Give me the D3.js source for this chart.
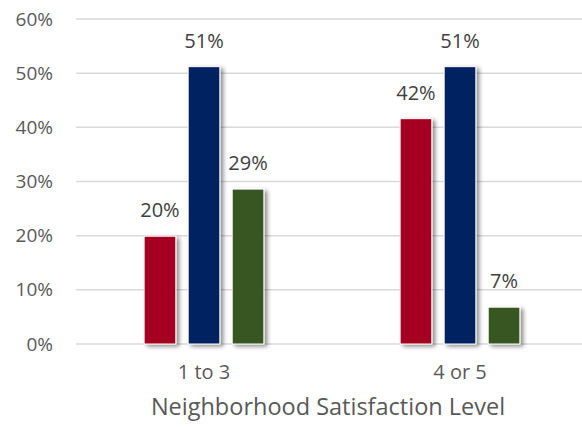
<!DOCTYPE html>
<html><head><meta charset="utf-8">
<script src="https://cdn.jsdelivr.net/npm/d3@7"></script>
<style>body{margin:0;background:#fff}svg{display:block}</style>
</head><body>
<svg id="c" width="582" height="427"></svg>
<script>
const categories = ["1 to 3", "4 or 5"];
const seriesNames = ["A", "B", "C"];
const seriesA = [0.199, 0.416];
const seriesB = [0.512, 0.512];
const seriesC = [0.286, 0.068];
const yTicks = [0, 0.1, 0.2, 0.3, 0.4, 0.5, 0.6];
const colors = ["#A50021", "#002060", "#375623"];
const axisTitle = "Neighborhood Satisfaction Level";

(function () {
const svg = d3.select("#c");
const font = "'Open Sans', sans-serif";
const mLeft = 76, mRight = 588, mTop = 19, mBottom = 344;

const defs = svg.append("defs");
const f = defs.append("filter").attr("id","sh").attr("x","-30%").attr("y","-10%").attr("width","160%").attr("height","130%");
f.append("feDropShadow").attr("dx",3).attr("dy",2).attr("stdDeviation",2).attr("flood-color","#000").attr("flood-opacity",0.45);

const y = d3.scaleLinear().domain([0, 0.6]).range([mBottom, mTop]);
const x0 = d3.scaleBand().domain(categories).range([mLeft, mRight]).paddingInner(0.484).paddingOuter(0.242);
const x1 = d3.scaleBand().domain(seriesNames).range([0, x0.bandwidth()]).paddingInner(0.28).paddingOuter(0.14);

svg.append("g").selectAll("line").data(yTicks).join("line")
  .attr("x1", mLeft).attr("x2", 582)
  .attr("y1", d => y(d)).attr("y2", d => y(d))
  .attr("stroke", "#d9d9d9").attr("stroke-width", 1.5);

const yAxis = svg.append("g").attr("transform", `translate(${mLeft},0)`)
  .call(d3.axisLeft(y).tickValues(yTicks).tickFormat(d3.format(".0%")).tickSize(0).tickPadding(23));
yAxis.select(".domain").remove();
yAxis.selectAll("text").attr("font-family", font).attr("font-size", 19).attr("fill", "#595959");

const xAxis = svg.append("g").attr("transform", `translate(0,${mBottom})`)
  .call(d3.axisBottom(x0).tickSize(0).tickPadding(21));
xAxis.select(".domain").remove();
xAxis.selectAll("text").attr("font-family", font).attr("font-size", 20).attr("fill", "#595959");

const series = [seriesA, seriesB, seriesC];
const data = [];
categories.forEach((c, i) => seriesNames.forEach((s, j) => data.push({c, s, j, v: series[j][i]})));

const g = svg.append("g");
g.selectAll("rect").data(data).join("rect")
  .attr("x", d => x0(d.c) + x1(d.s))
  .attr("y", d => y(d.v))
  .attr("width", x1.bandwidth())
  .attr("height", d => y(0) - y(d.v))
  .attr("fill", d => colors[d.j])
  .attr("stroke", "#fff").attr("stroke-width", 1)
  .attr("filter", "url(#sh)");

g.selectAll("text").data(data).join("text")
  .attr("x", d => x0(d.c) + x1(d.s) + x1.bandwidth() / 2)
  .attr("y", d => y(d.v) - 19)
  .attr("text-anchor", "middle")
  .attr("font-family", font).attr("font-size", 20).attr("fill", "#404040")
  .text(d => Math.round(d.v * 100) + "%");

svg.append("text").attr("x", 328).attr("y", 415).attr("text-anchor", "middle")
  .attr("font-family", font).attr("font-size", 23.5).attr("fill", "#595959")
  .text(axisTitle);
})();
</script>
</body></html>
